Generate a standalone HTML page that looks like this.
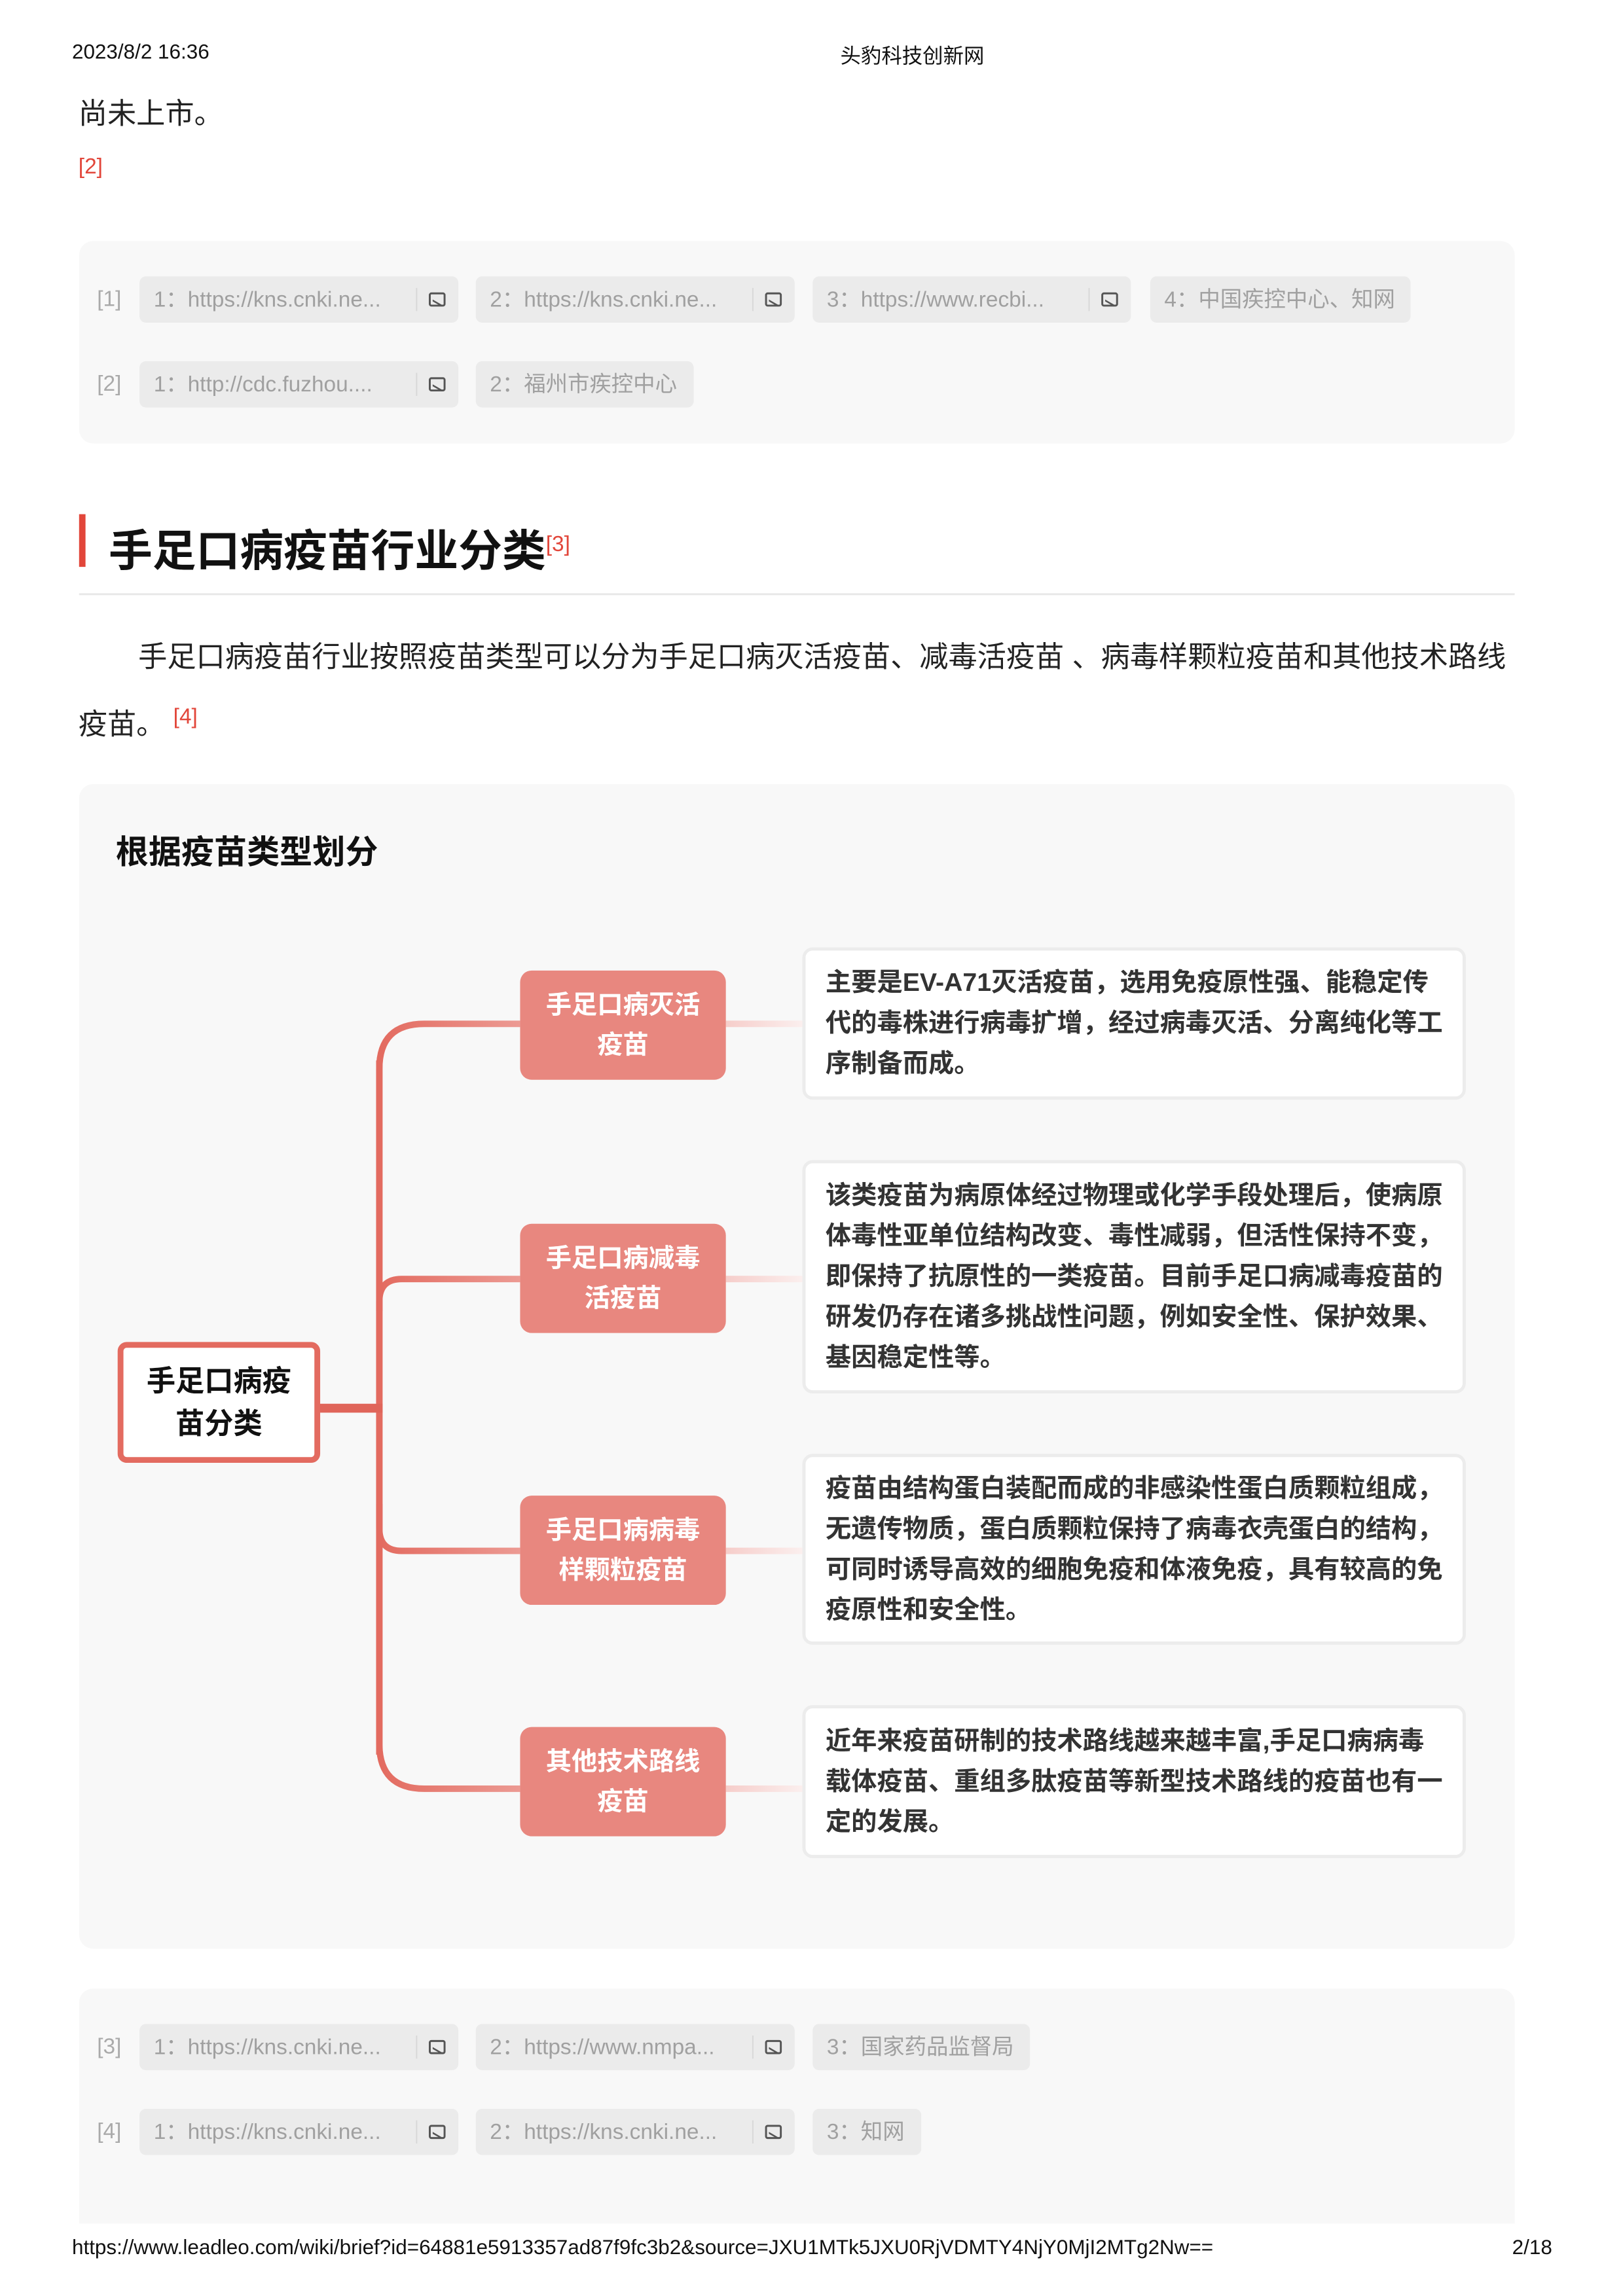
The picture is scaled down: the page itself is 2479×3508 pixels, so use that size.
<!DOCTYPE html>
<html><head><meta charset="utf-8">
<style>
*{margin:0;padding:0;box-sizing:border-box}
body{width:2479px;height:3508px;background:#fff;position:relative;overflow:hidden;font-family:"Liberation Sans","Noto Sans CJK SC",sans-serif;color:#222}
#w{position:absolute;left:0;top:0;width:2479px;height:3508px;transform:scale(0.982);transform-origin:0 0}
.a{position:absolute;white-space:nowrap}
.box{position:absolute;background:#f8f8f8;border-radius:22px}
.chip{position:absolute;background:#ebebeb;border-radius:10px;height:72px;color:#a0a0a0;font-size:34px;line-height:72px;padding-left:22px;white-space:nowrap}
.ic{position:absolute;right:20px;top:25px;width:26px;height:22px;border:3px solid #555;border-radius:4px}
.ic:after{content:"";position:absolute;left:3px;top:4px;width:14px;height:8px;border-bottom:3px solid #555;transform:skewY(30deg)}
.sep{position:absolute;right:64px;top:18px;width:2px;height:36px;background:#d8d8d8}
.lab{position:absolute;color:#aaa;font-size:34px}
.br{position:absolute;left:809px;width:320px;height:170px;background:#e8877f;border-radius:18px;color:#fff;font-weight:bold;font-size:40px;line-height:62px;text-align:center;display:flex;align-items:center;justify-content:center}
.desc{position:absolute;left:1248px;width:1032px;background:#fff;border:5px solid #ececec;border-radius:16px;font-weight:bold;font-size:40px;line-height:63px;color:#333;padding-left:31px;display:flex;align-items:center;white-space:nowrap}
</style></head><body>
<div id="w">
<div class="a" style="left:112px;top:62px;font-size:32px;color:#111">2023/8/2 16:36</div>
<div class="a" style="left:1307px;top:62px;font-size:32px;color:#111">头豹科技创新网</div>
<div class="a" style="left:122px;top:140px;font-size:45px;color:#222">尚未上市。</div>
<div class="a" style="left:122px;top:240px;font-size:34px;color:#e2463a">[2]</div>

<div class="box" style="left:123px;top:375px;width:2233px;height:315px"></div>
<div class="lab" style="left:151px;top:446px">[1]</div>
<div class="chip" style="left:217px;top:430px;width:496px">1：https://kns.cnki.ne...<span class="sep"></span><span class="ic"></span></div>
<div class="chip" style="left:740px;top:430px;width:496px">2：https://kns.cnki.ne...<span class="sep"></span><span class="ic"></span></div>
<div class="chip" style="left:1264px;top:430px;width:495px">3：https://www.recbi...<span class="sep"></span><span class="ic"></span></div>
<div class="chip" style="left:1789px;top:430px;width:405px">4：中国疾控中心、知网</div>
<div class="lab" style="left:151px;top:578px">[2]</div>
<div class="chip" style="left:217px;top:562px;width:496px">1：http://cdc.fuzhou....<span class="sep"></span><span class="ic"></span></div>
<div class="chip" style="left:740px;top:562px;width:339px">2：福州市疾控中心</div>

<div class="a" style="left:123px;top:800px;width:10px;height:82px;background:#e2463a"></div>
<div class="a" style="left:169px;top:802px;font-size:68px;font-weight:bold;color:#111">手足口病疫苗行业分类<sup style="font-size:34px;color:#e2463a;font-weight:normal">[3]</sup></div>
<div class="a" style="left:123px;top:923px;width:2233px;height:3px;background:#e8e8e8"></div>
<div class="a" style="left:215px;top:985px;font-size:45px;color:#222">手足口病疫苗行业按照疫苗类型可以分为手足口病灭活疫苗、减毒活疫苗 、病毒样颗粒疫苗和其他技术路线</div>
<div class="a" style="left:122px;top:1090px;font-size:45px;color:#222">疫苗。 <sup style="font-size:34px;color:#e2463a">[4]</sup></div>

<div class="box" style="left:123px;top:1220px;width:2233px;height:1812px"></div>
<div class="a" style="left:180px;top:1284px;font-size:51px;font-weight:bold;color:#111">根据疫苗类型划分</div>

<svg class="a" style="left:0;top:0" width="2479" height="3508">
<defs>
<linearGradient id="g" gradientUnits="userSpaceOnUse" x1="590" y1="0" x2="809" y2="0"><stop offset="0" stop-color="#e36b60"/><stop offset="1" stop-color="#ec9a93"/></linearGradient>
<linearGradient id="p" gradientUnits="userSpaceOnUse" x1="1129" y1="0" x2="1248" y2="0"><stop offset="0" stop-color="#f6cdca"/><stop offset="1" stop-color="#fbefee"/></linearGradient>
</defs>
<g fill="none" stroke-width="10">
<path d="M590,2191 L590,1663 Q590,1593 660,1593 L809,1593" stroke="url(#g)"/>
<path d="M590,2191 L590,2713 Q590,2783 660,2783 L809,2783" stroke="url(#g)"/>
<path d="M590,2040 L590,2025 Q590,1990 625,1990 L809,1990" stroke="url(#g)"/>
<path d="M590,2340 L590,2378 Q590,2413 625,2413 L809,2413" stroke="url(#g)"/>
<path d="M590,1650 L590,2730" stroke="#e36b60"/>
<path d="M490,2191 L595,2191" stroke="#e0655a" stroke-width="14"/>
<path d="M1129,1593 L1250,1593 M1129,1990 L1250,1990 M1129,2413 L1250,2413 M1129,2783 L1250,2783" stroke="url(#p)"/>
</g>
</svg>

<div class="a" style="left:183px;top:2088px;width:315px;height:188px;background:#fff;border:9px solid #e36b60;border-radius:14px;font-size:45px;font-weight:bold;line-height:66px;text-align:center;color:#111;display:flex;align-items:center;justify-content:center">手足口病疫<br>苗分类</div>

<div class="br" style="top:1510px">手足口病灭活<br>疫苗</div>
<div class="br" style="top:1904px">手足口病减毒<br>活疫苗</div>
<div class="br" style="top:2327px">手足口病病毒<br>样颗粒疫苗</div>
<div class="br" style="top:2687px">其他技术路线<br>疫苗</div>

<div class="desc" style="top:1474px;height:237px">主要是EV-A71灭活疫苗，选用免疫原性强、能稳定传<br>代的毒株进行病毒扩增，经过病毒灭活、分离纯化等工<br>序制备而成。</div>
<div class="desc" style="top:1805px;height:363px">该类疫苗为病原体经过物理或化学手段处理后，使病原<br>体毒性亚单位结构改变、毒性减弱，但活性保持不变，<br>即保持了抗原性的一类疫苗。目前手足口病减毒疫苗的<br>研发仍存在诸多挑战性问题，例如安全性、保护效果、<br>基因稳定性等。</div>
<div class="desc" style="top:2262px;height:297px">疫苗由结构蛋白装配而成的非感染性蛋白质颗粒组成，<br>无遗传物质，蛋白质颗粒保持了病毒衣壳蛋白的结构，<br>可同时诱导高效的细胞免疫和体液免疫，具有较高的免<br>疫原性和安全性。</div>
<div class="desc" style="top:2653px;height:238px">近年来疫苗研制的技术路线越来越丰富,手足口病病毒<br>载体疫苗、重组多肽疫苗等新型技术路线的疫苗也有一<br>定的发展。</div>

<div class="box" style="left:123px;top:3094px;width:2233px;height:400px"></div>
<div class="lab" style="left:151px;top:3165px">[3]</div>
<div class="chip" style="left:217px;top:3149px;width:496px">1：https://kns.cnki.ne...<span class="sep"></span><span class="ic"></span></div>
<div class="chip" style="left:740px;top:3149px;width:496px">2：https://www.nmpa...<span class="sep"></span><span class="ic"></span></div>
<div class="chip" style="left:1264px;top:3149px;width:338px">3：国家药品监督局</div>
<div class="lab" style="left:151px;top:3297px">[4]</div>
<div class="chip" style="left:217px;top:3281px;width:496px">1：https://kns.cnki.ne...<span class="sep"></span><span class="ic"></span></div>
<div class="chip" style="left:740px;top:3281px;width:496px">2：https://kns.cnki.ne...<span class="sep"></span><span class="ic"></span></div>
<div class="chip" style="left:1264px;top:3281px;width:169px">3：知网</div>

<div class="a" style="left:0;top:3460px;width:2560px;height:100px;background:#fff"></div>
<div class="a" style="left:112px;top:3478px;font-size:32px;color:#111">https://www.leadleo.com/wiki/brief?id=64881e5913357ad87f9fc3b2&amp;source=JXU1MTk5JXU0RjVDMTY4NjY0MjI2MTg2Nw==</div>
<div class="a" style="left:2352px;top:3478px;font-size:32px;color:#111">2/18</div>
</div>
</body></html>
